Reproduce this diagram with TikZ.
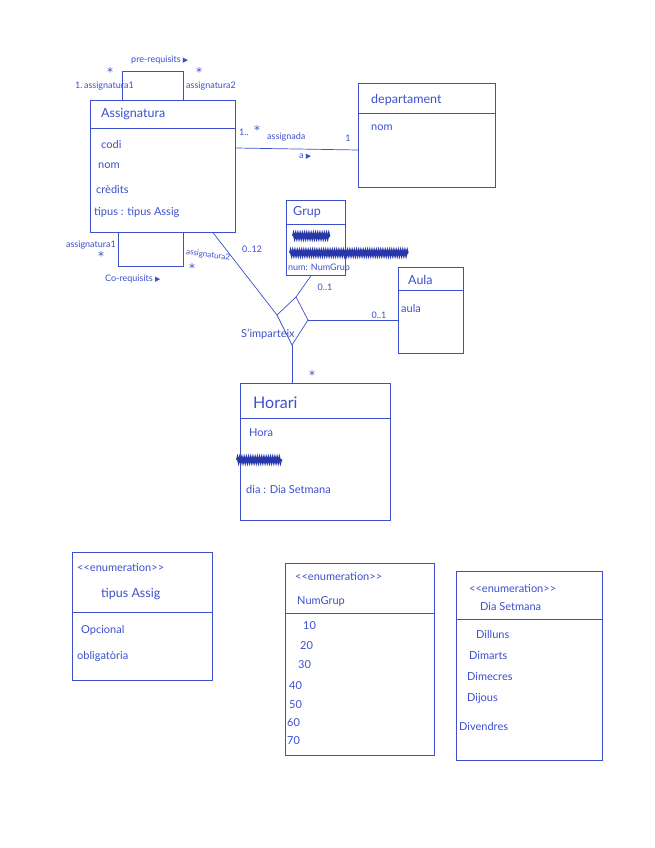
\documentclass[tikz,border=0pt]{standalone}
\usepackage{fontspec}
\setmainfont{Lato}
\newfontfamily\symf{DejaVu Sans}
\usetikzlibrary{calc,decorations.pathmorphing}
\definecolor{pen}{RGB}{60,80,205}
\definecolor{ink}{RGB}{40,55,170}
\begin{document}
\begin{tikzpicture}[x=1pt,y=-1pt,
  box/.style={draw=pen, line width=0.7pt, anchor=north west, inner sep=0pt},
  wire/.style={draw=pen, line width=0.7pt},
  txt/.style={text=pen, font=\fontsize{11}{13}\selectfont, inner sep=1pt},
  lbl/.style={text=pen, font=\fontsize{9}{11}\selectfont, inner sep=1pt},
  star/.style={text=pen, font=\symf\fontsize{12}{12}\selectfont, inner sep=0pt},
  ttl/.style={text=pen, font=\fontsize{12.5}{14}\selectfont, inner sep=1pt},
  scrib/.style={draw=ink, line width=2pt, decorate, decoration={zigzag, segment length=2.2pt, amplitude=2.2pt}}]
\newcommand{\tri}{{\symf\fontsize{7}{8}\selectfont ▶}}
\newcommand{\enumst}{{<}{<}enumeration{>}{>}}
\useasboundingbox[fill=white] (0,0) rectangle (655,848);

% ---------- Assignatura ----------
\node[box, minimum width=145, minimum height=132] (assig) at (90,100) {};
\draw[wire] ($(assig.north west)+(0,28)$) -- ($(assig.north east)+(0,28)$);
\node[ttl, anchor=west] (assigT) at (100,114) {Assignatura};
\node[txt, anchor=west] (a1) at (100,144) {codi};
\node[txt, anchor=west] (a2) at (97,166) {nom};
\node[txt, anchor=west] (a3) at (95,189) {crèdits};
\node[txt, anchor=west] (a4) at (93,212) {tipus : tipus Assig};

% pre-requisits self association
\draw[wire] ($(assig.north west)+(32,0)$) -- ++(0,-29) -- ++(61,0) -- ++(0,29);
\node[lbl, anchor=west] (pre) at (130,60) {pre-requisits \tri};
\node[lbl, anchor=west] (pr1) at (74,86) {1.\,assignatura1};
\node[star] (pr1s) at (110,72) {*};
\node[lbl, anchor=west] (pr2) at (185,86) {assignatura2};
\node[star] (pr2s) at (199,72) {*};

% co-requisits self association
\draw[wire] ($(assig.south west)+(28,0)$) -- ++(0,34) -- ++(65,0) -- ++(0,-34);
\node[lbl, anchor=east] (co1) at (117,245) {assignatura1};
\node[star] (co1s) at (101,256) {*};
\node[lbl, anchor=west, rotate=-8, font=\fontsize{8}{10}\selectfont] (co2) at (185,252) {assignatura2};
\node[star] (co2s) at (192,268) {*};
\node[lbl, anchor=west] (co) at (104,279) {Co-requisits \tri};

% ---------- departament ----------
\node[box, minimum width=137, minimum height=104] (dep) at (358,83) {};
\draw[wire] ($(dep.north west)+(0,30)$) -- ($(dep.north east)+(0,30)$);
\node[ttl, anchor=west] (depT) at (370,100) {departament};
\node[txt, anchor=west] (d1) at (370,128) {nom};

\draw[wire] ($(assig.north east)+(0,48)$) -- ($(dep.north west)+(0,67)$);
\node[lbl, anchor=west] (m1) at (238,132) {1..};
\node[star] (m1s) at (257,130) {*};
\node[lbl, anchor=west] (m2) at (266,137) {assignada};
\node[lbl] (m3) at (348,138) {1};
\node[lbl, anchor=west] (m4) at (298,157) {a \tri};

% ---------- Grup ----------
\node[box, minimum width=59, minimum height=75] (grup) at (286,200) {};
\draw[wire] ($(grup.north west)+(0,24)$) -- ($(grup.north east)+(0,24)$);
\node[ttl, anchor=west] (grupT) at (292,212) {Grup};
\draw[scrib] (293,236) -- (330,236);
\draw[scrib] (290,253) -- (408,253);
\node[lbl, anchor=west] (g1) at (287,268) {num: NumGrup};

% ---------- Aula ----------
\node[box, minimum width=65, minimum height=86] (aula) at (398,267) {};
\draw[wire] ($(aula.north west)+(0,23)$) -- ($(aula.north east)+(0,23)$);
\node[ttl, anchor=west] (aulaT) at (407,280) {Aula};
\node[txt, anchor=west] (au1) at (400,308) {aula};

% ---------- ternary association ----------
\coordinate (dl) at (277,315);
\coordinate (dt) at (296,297);
\coordinate (dr) at (308,320);
\coordinate (db) at (292,345);
\draw[wire] (dl) -- (dt) -- (dr) -- (db) -- cycle;
\draw[wire] ($(assig.south west)+(123,0)$) -- (dl);
\draw[wire] ($(grup.south west)+(25,0)$) -- (dt);
\draw[wire] (dr) -- (aula.west |- dr);
\node[lbl] (t1) at (325,287) {0..1};
\node[lbl] (t2) at (379,315) {0..1};
\node[lbl] (t3) at (252,249) {0..12};
\node[txt, anchor=west] (simp) at (240,334) {S'imparteix};

% ---------- Horari ----------
\node[box, minimum width=150, minimum height=137] (horari) at (240,383) {};
\draw[wire] ($(horari.north west)+(0,35)$) -- ($(horari.north east)+(0,35)$);
\draw[wire] (db) -- (horari.north -| db);
\node[star] (hs) at (312,375) {*};
\node[text=pen, font=\fontsize{16}{18}\selectfont, anchor=west, inner sep=1pt] (horT) at (252,403) {Horari};
\node[txt, anchor=west] (h1) at (248,433) {Hora};
\draw[scrib] (237,460) -- (282,460);
\node[txt, anchor=west] (h2) at (245,489) {dia : Dia Setmana};

% ---------- enumeration tipus Assig ----------
\node[box, minimum width=140, minimum height=128] (e1) at (72,552) {};
\draw[wire] ($(e1.north west)+(0,60)$) -- ($(e1.north east)+(0,60)$);
\node[txt, anchor=west] (e1a) at (76,568) {\enumst};
\node[ttl, anchor=west] (e1b) at (100,594) {tipus Assig};
\node[txt, anchor=west] (e1c) at (80,630) {Opcional};
\node[txt, anchor=west] (e1d) at (76,656) {obligatòria};

% ---------- enumeration NumGrup ----------
\node[box, minimum width=149, minimum height=192] (e2) at (285,563) {};
\draw[wire] ($(e2.north west)+(0,50)$) -- ($(e2.north east)+(0,50)$);
\node[txt, anchor=west] (e2a) at (294,577) {\enumst};
\node[txt, anchor=west] (e2b) at (296,601) {NumGrup};
\node[txt, anchor=west] (n1) at (302,626) {10};
\node[txt, anchor=west] (n2) at (299,646) {20};
\node[txt, anchor=west] (n3) at (297,665) {30};
\node[txt, anchor=west] (n4) at (288,686) {40};
\node[txt, anchor=west] (n5) at (288,705) {50};
\node[txt, anchor=west] (n6) at (286,723) {60};
\node[txt, anchor=west] (n7) at (286,741) {70};

% ---------- enumeration DiaSetmana ----------
\node[box, minimum width=146, minimum height=189] (e3) at (456,571) {};
\draw[wire] ($(e3.north west)+(0,48)$) -- ($(e3.north east)+(0,48)$);
\node[txt, anchor=west] (e3a) at (468,589) {\enumst};
\node[txt, anchor=west] (e3b) at (479,607) {Dia Setmana};
\node[txt, anchor=west] (s1) at (475,634) {Dilluns};
\node[txt, anchor=west] (s2) at (468,656) {Dimarts};
\node[txt, anchor=west] (s3) at (466,677) {Dimecres};
\node[txt, anchor=west] (s4) at (466,698) {Dijous};
\node[txt, anchor=west] (s5) at (458,726) {Divendres};
\end{tikzpicture}
\end{document}
